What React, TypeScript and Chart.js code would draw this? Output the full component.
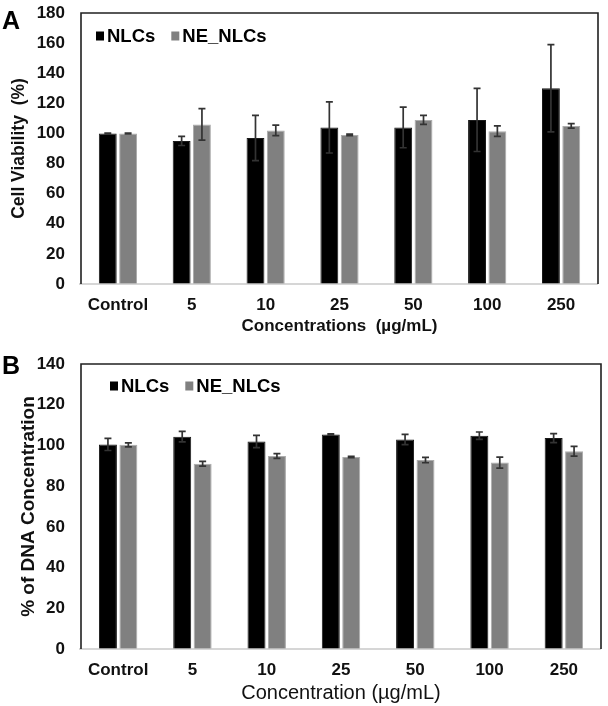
import React, { useEffect, useRef } from "react";
import { Chart, registerables } from "chart.js";
Chart.register(...registerables);

const categories = ["Control", "5", "10", "25", "50", "100", "250"];
const seriesNames = ["NLCs", "NE_NLCs"];

// Panel A: Cell viability (%)
const viabilityNLCs = [100, 95, 97, 104, 104, 109, 130];
const viabilityNLCsErr = [0.3, 3, 15, 17, 13.5, 21, 29];
const viabilityNE = [100, 106, 102, 99, 109, 101.5, 105];
const viabilityNEErr = [0.3, 10.5, 3.5, 0.5, 3, 3.5, 1.5];

// Panel B: % of DNA concentration
const dnaNLCs = [100.5, 104.3, 101.9, 105.4, 102.9, 104.8, 103.6];
const dnaNLCsErr = [3, 2.6, 3, 0.3, 2.5, 1.8, 2.2];
const dnaNE = [100.3, 91, 94.8, 94.3, 92.8, 91.6, 97.1];
const dnaNEErr = [1, 1.2, 1.2, 0.3, 1.3, 2.7, 2.4];

const FONT = "'Liberation Sans', Arial, sans-serif";
const BAR_COLORS = ["#000000", "#808080"];
const BAR_BORDERS = ["#1a1a1a", "#acacac"];

type PanelProps = {
  letter: string;
  top: number;
  height: number;
  a: number[];
  aErr: number[];
  b: number[];
  bErr: number[];
  yMax: number;
  yTitle: string;
  xTitle: string;
  plotTop: number;
  plotBottom: number;
  plotRight: number;
  legendDx: number;
  legendDy: number;
  yTitleSize: number;
  xTitleWeight: string;
  xTitleSize: number;
  yTitlePad: number;
  xTitlePadBottom: number;
  letterTop: number;
};

function Panel(p: PanelProps) {
  const ref = useRef<HTMLCanvasElement | null>(null);
  useEffect(() => {
    const canvas = ref.current;
    if (!canvas) return;
    const errs = [p.aErr, p.bErr];

    const errorBars = {
      id: "errorBars",
      afterDatasetsDraw(chart: any) {
        const ctx = chart.ctx;
        const y = chart.scales.y;
        ctx.save();
        ctx.strokeStyle = "#333333";
        ctx.lineWidth = 1.7;
        chart.data.datasets.forEach((ds: any, i: number) => {
          const meta = chart.getDatasetMeta(i);
          meta.data.forEach((el: any, j: number) => {
            const v = ds.data[j];
            const e = errs[i][j];
            const x = el.x;
            const yt = y.getPixelForValue(v + e);
            const yb = y.getPixelForValue(v - e);
            ctx.beginPath();
            ctx.moveTo(x, yt);
            ctx.lineTo(x, yb);
            ctx.moveTo(x - 3.5, yt);
            ctx.lineTo(x + 3.5, yt);
            ctx.moveTo(x - 3.5, yb);
            ctx.lineTo(x + 3.5, yb);
            ctx.stroke();
          });
        });
        ctx.restore();
      },
    };

    const frame = {
      id: "frame",
      afterDatasetsDraw(chart: any) {
        const { left, right, top, bottom } = chart.chartArea;
        const ctx = chart.ctx;
        ctx.save();
        ctx.strokeStyle = "#c8c8c8";
        ctx.lineWidth = 1.5;
        ctx.beginPath();
        ctx.moveTo(left - 2, bottom);
        ctx.lineTo(right, bottom);
        ctx.stroke();
        ctx.strokeStyle = "#202020";
        ctx.lineWidth = 1.6;
        ctx.beginPath();
        ctx.moveTo(left, bottom);
        ctx.lineTo(left, top);
        ctx.lineTo(right, top);
        ctx.lineTo(right, bottom);
        ctx.stroke();
        ctx.restore();
      },
    };

    const legendBox = {
      id: "legendBox",
      afterDraw(chart: any) {
        const { left, top } = chart.chartArea;
        const ctx = chart.ctx;
        ctx.save();
        ctx.font = `bold 18.5px ${FONT}`;
        ctx.textBaseline = "middle";
        let x = left + p.legendDx;
        const yc = top + p.legendDy;
        chart.data.datasets.forEach((ds: any, i: number) => {
          ctx.fillStyle = BAR_COLORS[i];
          ctx.fillRect(x, yc - 4.5, 8, 9);
          ctx.fillStyle = "#000";
          ctx.fillText(ds.label, x + 11, yc + 1);
          x += 11 + ctx.measureText(ds.label).width + 16;
        });
        ctx.restore();
      },
    };

    const chart = new Chart(canvas, {
      type: "bar",
      data: {
        labels: categories,
        datasets: [
          {
            label: seriesNames[0],
            data: p.a,
            backgroundColor: BAR_COLORS[0],
            borderColor: BAR_BORDERS[0],
            borderWidth: 1,
            categoryPercentage: 0.55,
            barPercentage: 0.88,
          },
          {
            label: seriesNames[1],
            data: p.b,
            backgroundColor: BAR_COLORS[1],
            borderColor: BAR_BORDERS[1],
            borderWidth: 1,
            categoryPercentage: 0.55,
            barPercentage: 0.88,
          },
        ],
      },
      options: {
        responsive: false,
        animation: false,
        layout: {
          padding: { left: 0, right: 608 - p.plotRight, top: p.plotTop, bottom: 0 },
        },
        plugins: {
          legend: { display: false },
          tooltip: { enabled: false },
        },
        scales: {
          x: {
            grid: { display: false, drawTicks: false },
            border: { display: false },
            ticks: {
              color: "#111",
              font: { family: FONT, size: 17, weight: "bold" },
              padding: 11,
              maxRotation: 0,
              autoSkip: false,
            },
            title: {
              display: true,
              text: p.xTitle,
              color: "#111",
              font: { family: FONT, size: p.xTitleSize, weight: p.xTitleWeight as any },
              padding: { top: 0, bottom: p.xTitlePadBottom },
            },
            afterFit(s: any) {
              s.height = p.height - p.plotBottom;
              s.paddingLeft = 0;
              s.paddingRight = 0;
            },
          },
          y: {
            min: 0,
            max: p.yMax,
            grid: { display: false, drawTicks: false },
            border: { display: false },
            ticks: {
              stepSize: 20,
              color: "#111",
              font: { family: FONT, size: 17, weight: "bold" },
              padding: 16,
            },
            title: {
              display: true,
              text: p.yTitle,
              color: "#111",
              font: { family: FONT, size: p.yTitleSize, weight: "bold" },
              padding: { top: p.yTitlePad, bottom: 0 },
            },
            afterFit(s: any) {
              s.width = 81;
              s.paddingTop = 0;
              s.paddingBottom = 0;
            },
          },
        },
      },
      plugins: [frame, errorBars, legendBox],
    });
    return () => chart.destroy();
  }, []);

  return (
    <div style={{ position: "absolute", left: 0, top: p.top, width: 608, height: p.height }}>
      <canvas ref={ref} width={608} height={p.height} style={{ display: "block" }} />
      <div
        style={{
          position: "absolute",
          left: 2,
          top: p.letterTop,
          fontFamily: "'Liberation Sans', Arial, sans-serif",
          fontWeight: "bold",
          fontSize: 25,
          color: "#000",
          lineHeight: "26px",
        }}
      >
        {p.letter}
      </div>
    </div>
  );
}

export default function App() {
  return (
    <div style={{ position: "absolute", left: 0, top: 0, width: 608, height: 706, background: "#fff" }}>
      <Panel
        letter="A"
        top={0}
        height={340}
        a={viabilityNLCs}
        aErr={viabilityNLCsErr}
        b={viabilityNE}
        bErr={viabilityNEErr}
        yMax={180}
        yTitle="Cell Viability  (%)"
        xTitle="Concentrations  (µg/mL)"
        plotTop={13}
        plotBottom={284}
        plotRight={598}
        legendDx={15}
        legendDy={23}
        yTitleSize={17.5}
        xTitleWeight="bold"
        xTitleSize={17}
        yTitlePad={9}
        xTitlePadBottom={3}
        letterTop={7}
      />
      <Panel
        letter="B"
        top={340}
        height={366}
        a={dnaNLCs}
        aErr={dnaNLCsErr}
        b={dnaNE}
        bErr={dnaNEErr}
        yMax={140}
        yTitle="% of DNA Concentration"
        xTitle="Concentration (µg/mL)"
        plotTop={24}
        plotBottom={309}
        plotRight={601}
        legendDx={29}
        legendDy={22}
        yTitleSize={19}
        xTitleWeight="normal"
        xTitleSize={20}
        yTitlePad={17}
        xTitlePadBottom={1}
        letterTop={12}
      />
    </div>
  );
}
